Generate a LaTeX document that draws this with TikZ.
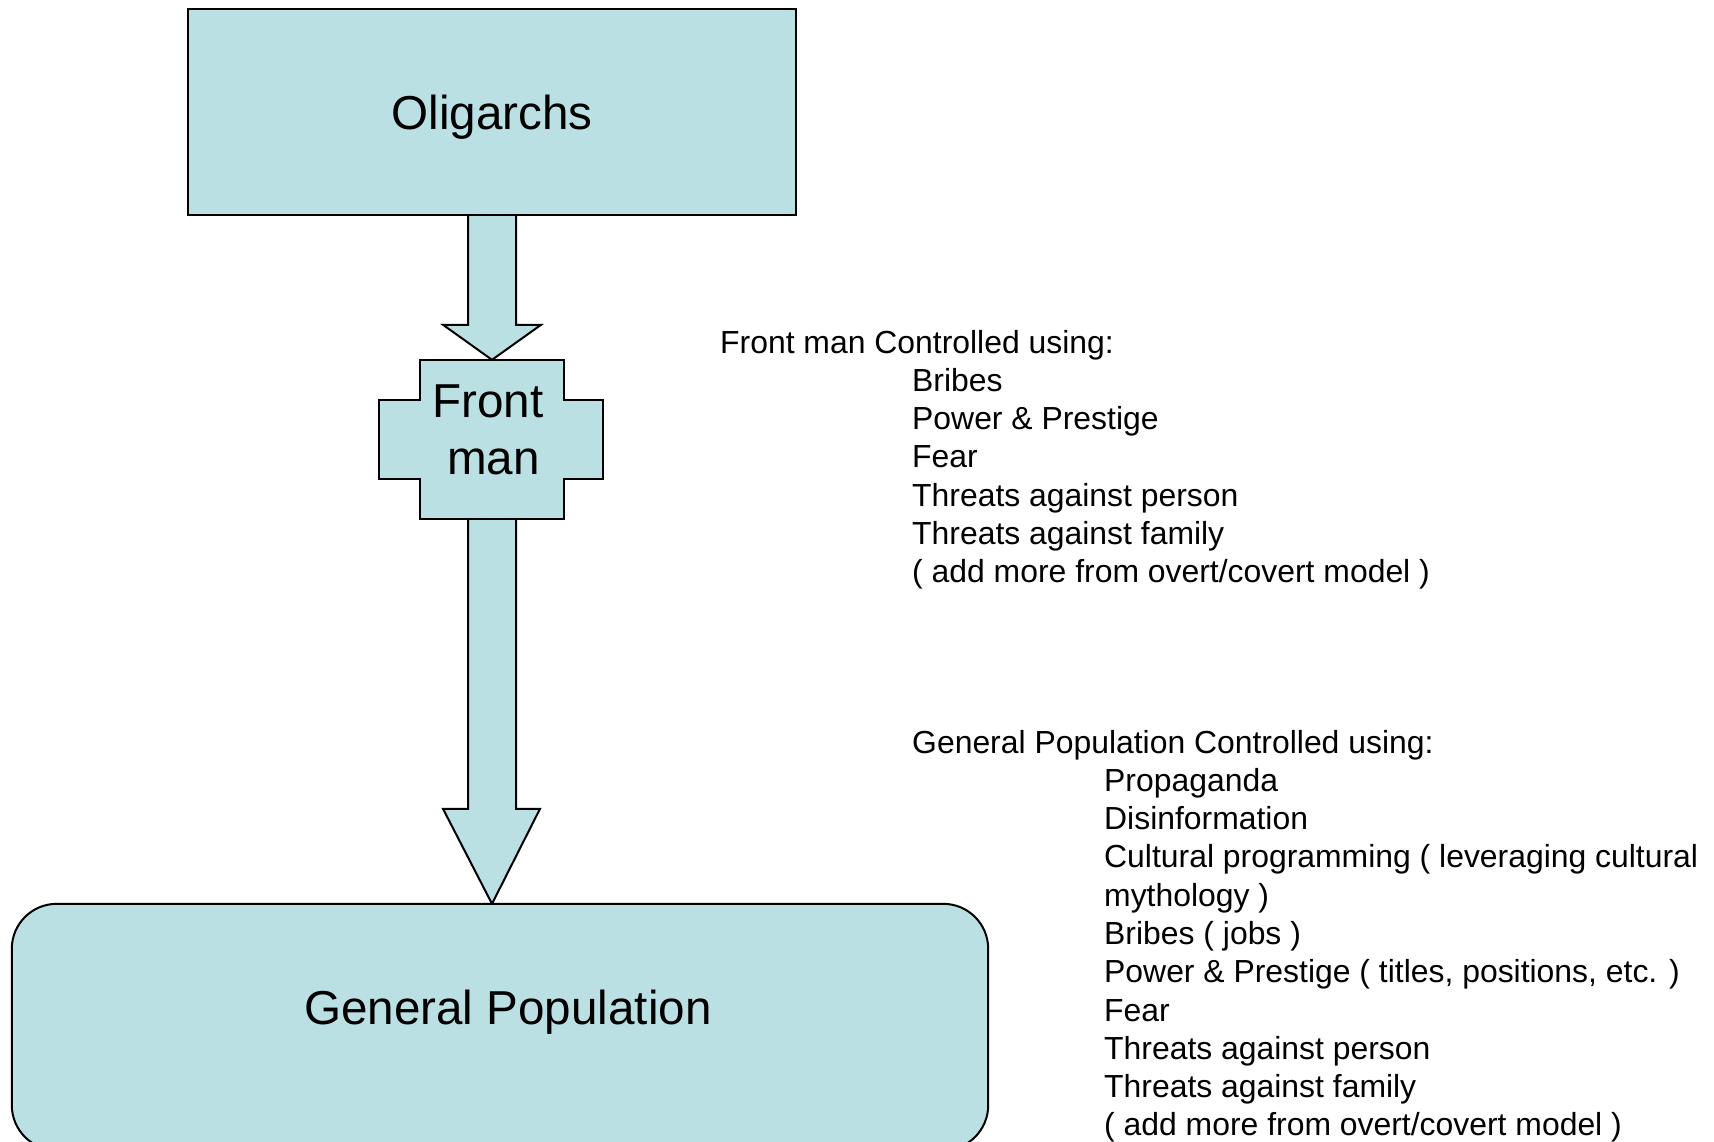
\documentclass[tikz,border=0pt]{standalone}
\usepackage{fontspec}
\setmainfont{Liberation Sans}
\usetikzlibrary{calc}
\definecolor{boxfill}{RGB}{187,224,227}
\begin{document}
\begin{tikzpicture}[x=1pt,y=-1pt,
  shapebox/.style={draw=black, line width=2pt, fill=boxfill, line join=miter},
  bigtext/.style={font=\fontsize{47.6}{57}\selectfont},
  listtext/.style={font=\fontsize{31.9}{38}\selectfont, anchor=base west, inner sep=0pt}]
\useasboundingbox (0,0) rectangle (1714,1141);
% node frames (drawn later)
\node[minimum width=608pt, minimum height=206pt, inner sep=0pt] (olig) at (492,112) {};
\node[minimum width=144pt, minimum height=159pt, inner sep=0pt] (front) at (492,439.5) {};
\node[minimum width=976pt, minimum height=246pt, inner sep=0pt] (gp) at (500,1027) {};
% Arrow 1
\path[shapebox] ($(olig.south)+(-24,0)$) -- ($(front.north)+(-24,-35)$) -- ($(front.north)+(-49,-35)$)
  -- (front.north) -- ($(front.north)+(49,-35)$) -- ($(front.north)+(24,-35)$) -- ($(olig.south)+(24,0)$);
% Arrow 2
\coordinate (tip2) at (front.south |- gp.north);
\path[shapebox] ($(front.south)+(-24,0)$) -- ($(tip2)+(-24,-95)$) -- ($(tip2)+(-49,-95)$)
  -- (tip2) -- ($(tip2)+(48,-95)$) -- ($(tip2)+(24,-95)$) -- ($(front.south)+(24,0)$);
% Oligarchs
\path[shapebox] (olig.north west) rectangle (olig.south east);
\node[bigtext] (oligt) at (492,117.5) {Oligarchs};
% Front man cross
\path[shapebox] (420,360) -- (564,360) -- (564,400) -- (603,400) -- (603,479) -- (564,479)
  -- (564,519) -- (420,519) -- (420,479) -- (379,479) -- (379,400) -- (420,400) -- cycle;
\node[bigtext, align=center] (frontt) at (493.5,430) {Front\kern11pt\\man};
% General Population
\path[shapebox, rounded corners=45pt] (gp.north west) rectangle (gp.south east);
\node[bigtext] (gpt) at (508,1012.5) {General Population};
% Front man list
\node[listtext] (fmh) at (720,353) {Front man Controlled using:};
\foreach \t [count=\i] in {Bribes, Power \& Prestige, Fear, Threats against person, Threats against family, ( add more from overt/covert model )}
  \node[listtext] (fm\i) at (912,{353+38.26*\i}) {\t};
% General population list
\node[listtext] (gph) at (912,753.2) {General Population Controlled using:};
\foreach \t [count=\i] in {Propaganda, Disinformation, Cultural programming ( leveraging cultural, mythology ), Bribes ( jobs ), {Power \& Prestige ( titles, positions, etc. )}, Fear, Threats against person, Threats against family, ( add more from overt/covert model )}
  \node[listtext] (gp\i) at (1104,{753.2+38.26*\i}) {\t};
\end{tikzpicture}
\end{document}
